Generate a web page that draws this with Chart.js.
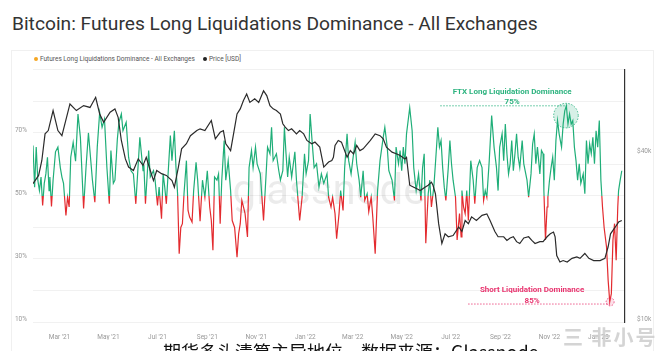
<!DOCTYPE html>
<html>
<head>
<meta charset="utf-8">
<script src="https://cdn.jsdelivr.net/npm/chart.js@4.4.0/dist/chart.umd.min.js"></script>
<style>
  body { margin:0; width:660px; height:351px; overflow:hidden; background:#fff; position:relative; font-family:Roboto, "Noto Sans", sans-serif; }
  #title { position:absolute; left:12px; top:12px; font-size:19.2px; color:#333; white-space:nowrap; }
  #card { position:absolute; left:11px; top:50px; width:641px; height:300px; border:1px solid #f0f0f0; border-bottom:none; }
  #legend { position:absolute; left:34px; top:55px; font-size:6.5px; color:#555; white-space:nowrap; }
  #legend i { display:inline-block; width:4px; height:4px; border-radius:50%; margin-right:2px; vertical-align:middle; }
  #chart { position:absolute; left:12px; top:60px; }
  #caption { position:absolute; left:163px; top:342px; font-size:18px; line-height:18px; color:#111; white-space:nowrap; font-family:"Noto Sans CJK SC", sans-serif; }
  #mark { position:absolute; left:563px; top:322px; font-size:20px; font-weight:bold; letter-spacing:2px; color:rgba(205,205,205,0.85); white-space:nowrap; font-family:"Noto Sans CJK SC", sans-serif; }
</style>
</head>
<body>
<div id="title">Bitcoin: Futures Long Liquidations Dominance - All Exchanges</div>
<div id="card"></div>
<div id="legend"><i style="background:#f5a623"></i>Futures Long Liquidations Dominance - All Exchanges&nbsp;&nbsp;&nbsp;&nbsp;&nbsp;<i style="background:#222"></i>Price [USD]</div>
<canvas id="chart" width="640" height="280"></canvas>
<div id="caption">期货多头清算主导地位，数据来源：Glassnode</div>
<div id="mark">三 非小号</div>
<script>
// days counted from 2021-01-27
const startDate = '2021-01-27';

const xTickDates = ['2021-03-01','2021-05-01','2021-07-01','2021-09-01','2021-11-01','2022-01-01',
                    '2022-03-01','2022-05-01','2022-07-01','2022-09-01','2022-11-01','2023-01-01'];
const xTickLabels = ["Mar '21","May '21","Jul '21","Sep '21","Nov '21","Jan '22",
                     "Mar '22","May '22","Jul '22","Sep '22","Nov '22","Jan '23"];
const yTickLabels = [10, 30, 50, 70];
const priceTicks = [10000, 40000];

// long liquidations dominance (%)
const domDays = [0,2,4,6,8,10,12,14,16,18,20,21,23,25,28,31,34,36,38,41,43,45,47,50,53,56,59,63,66,69,72,74,77,80,83,86,89,92,95,97,100,102,105,107,110,112,116,119,122,125,128,131,133,137,138,140,144,146,150,152,155,157,160,162,164,166,171,173,176,178,180,182,184,186,188,191,193,195,198,200,203,205,
  208,211,214,217,220,222,224,226,229,231,233,235,238,240,243,246,248,251,254,256,258,260,262,264,267,269,272,274,277,279,283,285,287,290,292,295,297,299,303,306,308,311,313,315,317,319,322,326,328,332,335,338,340,343,345,348,350,353,356,359,362,366,368,371,373,376,378,381,383,386,388,391,393,396,398,401,403,406,408,411,413,416,418,421,423,426,429,432,436,438,441,443,447,450,452,455,
  457,459,461,463,465,469,472,474,477,480,483,485,487,489,492,494,496,499,501,504,506,508,510,512,514,517,519,521,523,526,528,531,533,534,536,538,540,542,545,548,550,553,556,559,561,563,565,568,571,574,577,579,581,584,586,588,590,592,594,596,598,600,602,604,606,609,611,615,617,620,622,624,626,628,631,633,635,636,638,640,641,643,645,647,649,651,653,655,658,660,662,664,666,668,670,672,674,676,678,680,682,685,687,689,691,693,695,697,699,701,703,705,707,709,711,714,716,718,720,722,724,726,728,729,731,733];
const domValues = [66,52.8,65.5,55,51.7,56,47,54,57,62.3,51.7,56,46.7,55,64,65.5,59,56,54,43.8,49.6,46.5,62.3,67,61,76,68.6,46,59,70,61,55,48,65.5,76.5,71.8,74.4,59,47.5,64.4,54,55,68,73.4,76,70.7,73.4,62.3,58,57,47.5,60.2,68.6,58,60,47.5,64.4,56,58,55,47,52.8,42.8,57,52.8,47.5,69.2,61.2,70.7,59,50.7,31.7,40,41.2,50.7,61.2,45.4,43.3,41.7,51.7,60.7,55,
  42,55,49.6,58,46.5,42.2,32.8,56,55,57,41.2,55,67.6,55,61.2,51.7,42.2,40,30.6,38,41.2,48.6,46.5,44.4,37,59,64.4,59,65.5,60.2,57,49.6,42.2,56,65.5,63.4,71.8,61.2,63.4,58,55,58,71.8,63.4,56,62.3,56,64,55,42.2,49.6,63.4,57,61.2,76,65.5,59,60.2,52.8,57,54,57,49.6,46.5,49.6,44.4,36.4,44.4,51.7,45.4,59,69.7,61.2,57,61.2,67,60.2,55,49.6,58,48.6,50.7,45,49.6,43.3,31.7,51.7,61.2,68.6,71.8,65.5,58,55,48.6,65.5,60.2,
  64.4,58,65.5,60.2,69.7,78,70.7,59,51.7,57,48.6,59,63.4,35,50.7,55,46.5,52.8,60.2,71.8,65.5,67.6,59,52.8,48.6,59,67.6,60.2,55,49.6,36,44.4,37,51.7,46.5,44.4,51.7,42.2,61.2,55,47.5,59,61.2,59,48.6,51.7,49.6,61.2,75.5,65.5,59,51.7,65.5,69.7,61.2,72.8,63.4,57,60.2,67.6,58,63.4,69.7,62.3,59,67.6,60.2,55,49.6,57,66.5,69.7,60.2,65.5,57,64.4,63.4,51.7,36,46.5,49.6,55,59,62.3,55,67.6,73.9,69.7,65.5,72.8,77,78.6,72.8,76,72.8,73.9,65.5,61.2,55,60.2,54,57,50.7,67.6,60.2,66.5,63.4,68.6,60.2,70.7,65.5,73.9,55,46.5,40,33.8,23.3,16.4,19,36,41.2,29.6,46.5,51.7,55,58];

// BTC price (USD)
const priceDays = [0,7,11,15,19,25,31,36,46,54,63,71,78,83,88,96,102,106,110,115,119,125,131,137,141,146,150,154,160,166,173,176,181,185,191,196,204,208,214,222,227,233,237,240,243,246,250,254,258,262,266,270,276,281,287,291,295,299,303,308,311,314,318,322,328,332,337,341,347,351,357,362,368,372,374,376,380,384,391,395,399,403,407,411,420,426,432,436,440,447,453,
  457,463,465,469,474,478,482,488,492,496,498,501,505,509,513,517,523,530,534,538,542,546,552,559,565,569,575,579,586,590,594,598,602,606,611,617,621,625,631,635,640,644,648,650,652,656,660,665,671,677,681,687,692,698,706,712,716,719,725,729,733];
const priceValues = [31300,33500,37900,47200,48500,57200,48500,46500,60400,57200,59600,58700,63800,55600,51900,56400,58000,54100,44700,38400,35900,34900,38400,36400,38900,34900,32100,34900,34000,33500,32100,30400,35900,41700,43500,46500,48500,49200,48500,52700,45300,47800,48500,43500,42300,41100,47800,55600,58000,62100,65600,61200,63000,61200,67400,64700,59600,58000,57200,55600,51300,49900,48500,49200,47200,48500,47200,44700,43500,44100,42300,35900,37400,37900,38900,42900,44700,44100,38900,41100,40000,42900,41100,41700,44700,47200,46500,45300,42300,40600,40000,
  39500,38400,38900,30900,30400,30000,29600,30400,30900,31700,30900,28800,22500,19100,20700,20200,20400,21900,21100,23100,22500,23800,23100,24100,24400,23100,21100,20200,20200,19600,20000,20200,19400,19100,20000,20200,19600,19100,19400,19400,20200,20700,21000,20200,17300,16400,16600,16400,16900,17100,16900,17600,16900,16600,16600,16900,18600,20700,21900,22800,23100];

const green = '#1fae78';
const red = '#e32b2f';
const pink = '#e8336e';

const t0 = Date.parse(startDate);
const dayOf = s => (Date.parse(s) - t0) / 864e5;

// green above 50%, red below, split exactly on the 50% line
function splitColor(c) {
  const chart = c.chart;
  const area = chart.chartArea;
  if (!area) return green;
  const y50 = chart.scales.y.getPixelForValue(50);
  const f = (y50 - area.top) / (area.bottom - area.top);
  const g = chart.ctx.createLinearGradient(0, area.top, 0, area.bottom);
  g.addColorStop(0, green);
  g.addColorStop(f, green);
  g.addColorStop(f, red);
  g.addColorStop(1, red);
  return g;
}

const notesPlugin = {
  id: 'notes',
  beforeDatasetsDraw(chart) {
    const ctx = chart.ctx, a = chart.chartArea;
    ctx.save();
    ctx.font = '400 42px Roboto';
    ctx.fillStyle = 'rgba(0,0,0,0.08)';
    ctx.textAlign = 'center';
    ctx.fillText('glassnode', (a.left + a.right) / 2, chart.scales.y.getPixelForValue(47.4));
    ctx.restore();
  },
  afterDatasetsDraw(chart) {
    const ctx = chart.ctx;
    const X = d => chart.scales.x.getPixelForValue(d);
    const Y = v => chart.scales.y.getPixelForValue(v);
    ctx.save();
    ctx.textAlign = 'center';
    ctx.textBaseline = 'middle';
    // FTX note
    ctx.fillStyle = 'rgba(31,174,120,0.18)';
    ctx.strokeStyle = green;
    ctx.lineWidth = 0.8;
    ctx.setLineDash([1.5, 1.5]);
    ctx.beginPath(); ctx.arc(X(663.5), Y(75.5), 12.3, 0, Math.PI * 2); ctx.fill(); ctx.stroke();
    ctx.beginPath(); ctx.moveTo(X(507), Y(78.6)); ctx.lineTo(X(665), Y(78.6)); ctx.stroke();
    ctx.fillStyle = '#2db37f';
    ctx.font = 'bold 8px Roboto';
    ctx.fillText('FTX Long Liquidation Dominance', X(596.5), Y(83.1));
    ctx.fillText('75%', X(596.5), Y(79.9));
    // short note
    ctx.strokeStyle = pink;
    ctx.fillStyle = 'rgba(232,51,110,0.15)';
    ctx.beginPath(); ctx.arc(X(718.5), Y(16.4), 4, 0, Math.PI * 2); ctx.fill(); ctx.stroke();
    ctx.beginPath(); ctx.moveTo(X(541.7), Y(15.7)); ctx.lineTo(X(718.5), Y(15.7)); ctx.stroke();
    ctx.fillStyle = pink;
    ctx.fillText('Short Liquidation Dominance', X(621.4), Y(20.1));
    ctx.fillText('85%', X(621.4), Y(16.8));
    ctx.restore();
  }
};

const tickFont = { family: 'Roboto', size: 6.5 };

new Chart(document.getElementById('chart'), {
  type: 'line',
  data: {
    datasets: [
      {
        label: 'Price [USD]',
        data: priceDays.map((d, i) => ({ x: d, y: priceValues[i] })),
        yAxisID: 'y1',
        borderColor: '#2b2b2b',
        borderWidth: 1.2,
        pointRadius: 0,
        tension: 0
      },
      {
        label: 'Futures Long Liquidations Dominance - All Exchanges',
        data: domDays.map((d, i) => ({ x: d, y: domValues[i] })),
        yAxisID: 'y',
        borderColor: splitColor,
        borderWidth: 1.2,
        pointRadius: 0,
        tension: 0
      }
    ]
  },
  options: {
    responsive: false,
    animation: false,
    devicePixelRatio: 1,
    layout: { padding: { top: 9 }, autoPadding: false },
    plugins: { legend: { display: false }, tooltip: { enabled: false } },
    scales: {
      x: {
        type: 'linear',
        min: 0,
        max: 737,
        grid: { display: false },
        border: { display: false },
        afterBuildTicks: s => { s.ticks = xTickDates.map(d => ({ value: dayOf(d) })); },
        afterFit: s => { s.height = 18; },
        ticks: { callback: (v, i) => xTickLabels[i], font: tickFont, color: '#999', padding: 3, maxRotation: 0, autoSkip: false }
      },
      y: {
        position: 'left',
        min: 10,
        max: 90,
        grid: { color: '#f1f1f1', drawTicks: false },
        border: { display: false },
        afterFit: s => { s.width = 21; },
        ticks: {
          stepSize: 10,
          callback: v => yTickLabels.includes(v) ? v + '%' : '',
          font: tickFont, color: '#999', padding: 6, labelOffset: -3
        }
      },
      y1: {
        type: 'logarithmic',
        position: 'right',
        min: 10000,
        max: 80000,
        grid: { display: false },
        border: { display: true, color: '#333', width: 1.2 },
        afterBuildTicks: s => { s.ticks = priceTicks.map(v => ({ value: v })); },
        afterFit: s => { s.width = 27; },
        ticks: { callback: v => '$' + v / 1000 + 'k', font: tickFont, color: '#999', padding: 4, labelOffset: -3 }
      }
    }
  },
  plugins: [notesPlugin]
});
</script>
</body>
</html>
